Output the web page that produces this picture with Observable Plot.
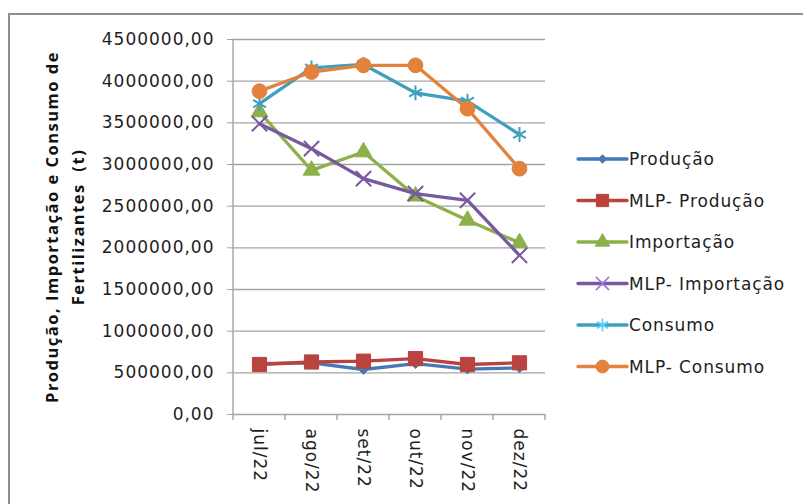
<!DOCTYPE html>
<html>
<head>
<meta charset="utf-8">
<script src="https://cdn.jsdelivr.net/npm/d3@7"></script>
<script src="https://cdn.jsdelivr.net/npm/@observablehq/plot@0.6"></script>
<style>
  html, body { margin: 0; padding: 0; background: #fff; }
  #wrap { position: relative; width: 803px; height: 504px; overflow: hidden; }
  #border { position: absolute; left: 8px; top: 13px; width: 820px; height: 520px;
            border: 2px solid #8e8e8e; box-sizing: border-box; pointer-events: none; }
  #wrap svg text { letter-spacing: 1px; }
  #wrap svg .title text { letter-spacing: 1.5px; }
  #wrap svg g.legend text { letter-spacing: 0.9px; }
</style>
</head>
<body>
<div id="wrap"><div id="border"></div></div>
<script>
// Meses do segundo semestre de 2022
const categories = ["jul/22", "ago/22", "set/22", "out/22", "nov/22", "dez/22"];

// Valores mensais (toneladas)
const producao      = [610000, 620000, 540000, 610000, 545000, 560000];
const mlpProducao   = [600000, 630000, 640000, 670000, 600000, 620000];
const importacao    = [3630000, 2930000, 3150000, 2620000, 2330000, 2060000];
const mlpImportacao = [3490000, 3190000, 2830000, 2650000, 2570000, 1910000];
const consumo       = [3730000, 4160000, 4200000, 3860000, 3760000, 3360000];
const mlpConsumo    = [3880000, 4110000, 4190000, 4190000, 3670000, 2950000];

const seriesNames = ["Produção", "MLP- Produção", "Importação", "MLP- Importação", "Consumo", "MLP- Consumo"];
const yTicks = [0, 500000, 1000000, 1500000, 2000000, 2500000, 3000000, 3500000, 4000000, 4500000];
const yTitle = "Produção, Importação e Consumo de\nFertilizantes  (t)";

// Estilo de cada série: cor, símbolo do marcador e raio
const styles = [
  {color: "#4778B8", symbol: "diamond2", r: 4.4, fill: true},
  {color: "#B8433F", symbol: "square",   r: 8,   fill: true},
  {color: "#8DB04B", symbol: "triangle", r: 6.2, fill: true},
  {color: "#7859A0", symbol: "times",    r: 7,   fill: false},
  {color: "#3E9FBE", symbol: "asterisk", r: 7,   fill: false},
  {color: "#E3823C", symbol: "circle",   r: 7.4, fill: true}
];
const values = [producao, mlpProducao, importacao, mlpImportacao, consumo, mlpConsumo];

const rows = seriesNames.map((name, s) =>
  categories.map((mes, i) => ({serie: name, mes, valor: values[s][i]}))
);

const fmt = v => v.toFixed(2).replace(".", ",");

const marks = [
  Plot.gridY(yTicks, {stroke: "#a3a3a3", strokeOpacity: 1, strokeWidth: 1.4}),
  Plot.axisY(yTicks, {tickSize: 6, tickPadding: 13, tickFormat: fmt, stroke: "#a3a3a3", fill: "#1e1e1e", label: null, fontSize: 17}),
  Plot.axisX({tickSize: 0, tickPadding: 14, tickRotate: 90, fill: "#1e1e1e", label: null, fontSize: 17}),
  Plot.text([yTitle], {frameAnchor: "left", dx: -171, rotate: -90, fontWeight: "bold", fontSize: 16.5,
                       lineHeight: 1.62, textAnchor: "middle", fill: "#111", className: "title",
                       fontFamily: "'Open Sans', sans-serif"})
];
rows.forEach((data, s) => {
  const st = styles[s];
  marks.push(Plot.line(data, {x: "mes", y: "valor", stroke: st.color, strokeWidth: 3.3}));
  marks.push(Plot.dot(data, {
    x: "mes", y: "valor", symbol: () => st.symbol, r: st.r,
    fill: st.fill ? st.color : "none", stroke: st.color, strokeWidth: st.fill ? 1 : 2
  }));
});

const chart = Plot.plot({
  width: 803,
  height: 504,
  marginLeft: 233,
  marginRight: 258,
  marginTop: 39,
  marginBottom: 90,
  style: {fontFamily: "'DejaVu Sans', sans-serif", fontSize: "17px", color: "#1e1e1e", background: "transparent", overflow: "visible"},
  x: {type: "point", domain: categories, padding: 0.5, axis: null},
  y: {domain: [0, 4500000], axis: null},
  symbol: {type: "identity"},
  marks
});
document.getElementById("wrap").prepend(chart);

// Linha do eixo vertical, marcas de divisão entre categorias e legenda
const svg = d3.select(chart);
const xs = chart.scale("x");
const ys = chart.scale("y");
const step = (xs.range[1] - xs.range[0]) / categories.length;
const left = xs.range[0];
const g = svg.append("g");
g.append("line").attr("x1", left).attr("x2", left)
  .attr("y1", ys.apply(4500000)).attr("y2", ys.apply(0))
  .attr("stroke", "#a3a3a3").attr("stroke-width", 1.4);
const bottom = ys.apply(0);
categories.concat([null]).forEach((c, i) => {
  const bx = c === null ? xs.apply(categories[i - 1]) + step / 2 : xs.apply(c) - step / 2;
  g.append("line").attr("x1", bx).attr("x2", bx).attr("y1", bottom).attr("y2", bottom + 6)
    .attr("stroke", "#a3a3a3").attr("stroke-width", 1.4);
});

const symMap = {
  diamond2: d3.symbolDiamond2, square: d3.symbolSquare, triangle: d3.symbolTriangle,
  times: d3.symbolTimes, asterisk: d3.symbolAsterisk, circle: d3.symbolCircle
};
const legend = svg.append("g").attr("class", "legend").attr("transform", "translate(578,159)");
seriesNames.forEach((name, s) => {
  const st = styles[s];
  const row = legend.append("g").attr("transform", `translate(0,${s * 41.5})`);
  row.append("line").attr("x1", 0).attr("x2", 49).attr("stroke", st.color)
    .attr("stroke-width", 3.3).attr("stroke-linecap", "round");
  row.append("path")
    .attr("d", d3.symbol(symMap[st.symbol], Math.PI * st.r * st.r * 0.75)())
    .attr("transform", "translate(24.5,0)")
    .attr("fill", st.fill ? st.color : "none")
    .attr("stroke", st.fill ? st.color : d3.color(st.color).brighter(0.8))
    .attr("stroke-width", st.fill ? 1 : 1.6);
  row.append("text").attr("x", 51).attr("dy", "0.36em")
    .attr("text-anchor", "start")
    .attr("fill", "#1e1e1e").attr("font-size", 17).text(name);
});
</script>
</body>
</html>
